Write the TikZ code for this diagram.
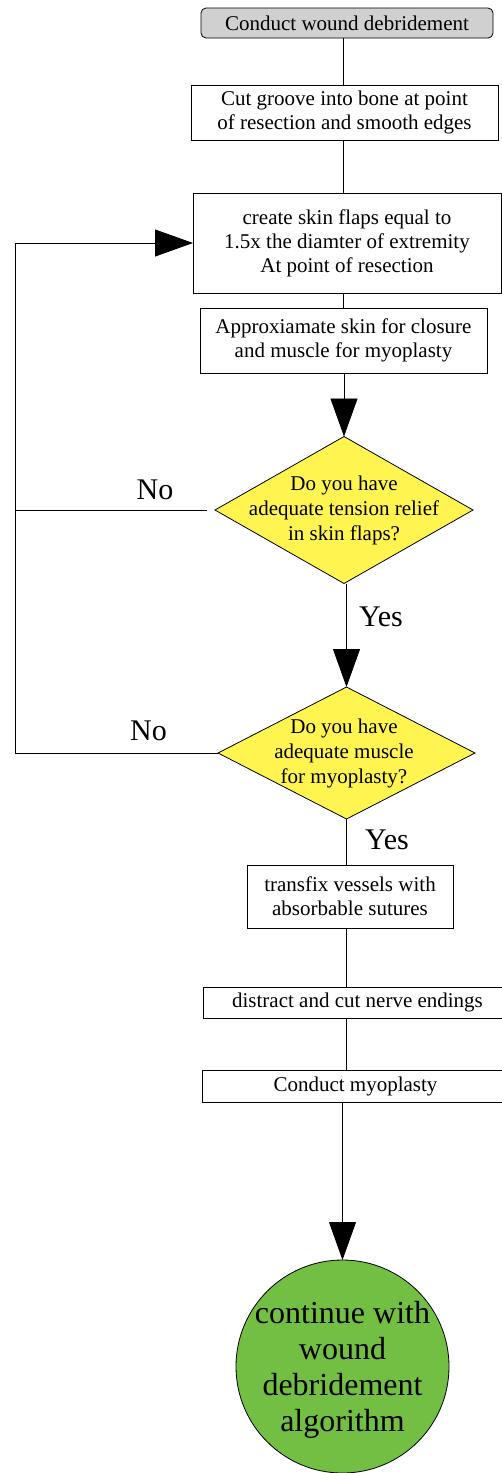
\documentclass[tikz,border=0pt]{standalone}
\usepackage{fontspec}
\setmainfont{Liberation Serif}
\usetikzlibrary{arrows.meta,shapes.geometric}
\definecolor{startgray}{HTML}{D0D0D0}
\definecolor{dyellow}{HTML}{FFF450}
\definecolor{endgreen}{HTML}{72BF44}
\tikzset{
  line/.style={line width=0.8pt, draw=black},
  bigarrow/.style={line, -{Triangle[length=38pt,width=27pt]}},
  stepbox/.style={draw, line width=0.8pt, fill=white, rectangle, inner sep=0pt, outer sep=0pt,
    align=center, font=\fontsize{21}{24}\selectfont},
  startbox/.style={stepbox, fill=startgray, rounded corners=5pt},
  decision/.style={draw, line width=0.8pt, fill=dyellow, diamond, inner sep=0pt, outer sep=0pt},
  dtext/.style={align=center, inner sep=0pt, font=\fontsize{21}{25}\selectfont},
  endcircle/.style={draw, line width=0.8pt, fill=endgreen, circle, inner sep=0pt, outer sep=0pt,
    minimum size=213pt},
  ctext/.style={align=center, inner sep=0pt, font=\fontsize{32}{36}\selectfont},
  answer/.style={inner sep=0pt, font=\fontsize{30}{34}\selectfont},
}
\begin{document}
\begin{tikzpicture}[x=1pt,y=-1pt]
\clip (0,0) rectangle (502,1473);
\fill[white] (0,0) rectangle (502,1473);

\node[startbox, minimum width=292pt, minimum height=30pt] (b1) at (347,23) {Conduct wound debridement};
\node[stepbox, minimum width=307pt, minimum height=55pt] (b2) at (344.5,112.5) {Cut groove into bone at point\\of resection and smooth edges};
\node[stepbox, minimum width=308pt, minimum height=100pt] (b3) at (347,243) {create skin flaps equal to\\1.5x the diamter of extremity\\At point of resection};
\node[stepbox, minimum width=287pt, minimum height=65pt] (b4) at (343.5,340.5) {Approxiamate skin for closure\\and muscle for myoplasty};

\node[decision, minimum width=258pt, minimum height=147pt] (d1) at (344,510) {};
\node[dtext] (d1t) at (d1.center) {Do you have\\adequate tension relief\\in skin flaps?};

\node[decision, minimum width=257pt, minimum height=132pt] (d2) at (346.5,753) {};
\node[dtext] (d2t) at (344,753) {Do you have\\adequate muscle\\for myoplasty?};

\node[stepbox, minimum width=206pt, minimum height=63pt] (b5) at (350,896.5) {transfix vessels with\\absorbable sutures};
\node[stepbox, minimum width=309pt, minimum height=31pt] (b6) at (357.5,1002.5) {distract and cut nerve endings};
\node[stepbox, minimum width=307pt, minimum height=32pt] (b7) at (355.5,1086) {Conduct myoplasty};

\node[endcircle] (c) at (342.5,1366.5) {};
\node[ctext] (ct) at (342.5,1370) {continue with\\wound\\debridement\\algorithm};

\node[answer] (no1) at (155,490) {No};
\node[answer] (no2) at (148.5,731) {No};
\node[answer] (yes1) at (381,617) {Yes};
\node[answer] (yes2) at (387,840) {Yes};

\coordinate (spine) at (343,0);
\coordinate (lowspine) at (346,0);
\coordinate (loop) at (15,0);

\draw[line] (b1.south -| spine) -- (b2.north -| spine);
\draw[line] (b2.south -| spine) -- (b3.north -| spine);
\draw[line] (b3.south -| spine) -- (b4.north -| spine);
\draw[bigarrow] (b4.south -| d1.north) -- (d1.north);
\draw[bigarrow] (d1.south -| d2.north) -- (d2.north);
\draw[line] (d2.south -| lowspine) -- (b5.north -| lowspine);
\draw[line] (b5.south -| lowspine) -- (b6.north -| lowspine);
\draw[line] (b6.south -| lowspine) -- (b7.north -| lowspine);
\draw[bigarrow] (b7.south -| c.north) -- (c.north);

\draw[bigarrow] (d2.west) -- (d2.west -| loop) |- (b3.west);
\draw[line, shorten <=8pt] (d1.west) -- (d1.west -| loop);
\end{tikzpicture}
\end{document}
